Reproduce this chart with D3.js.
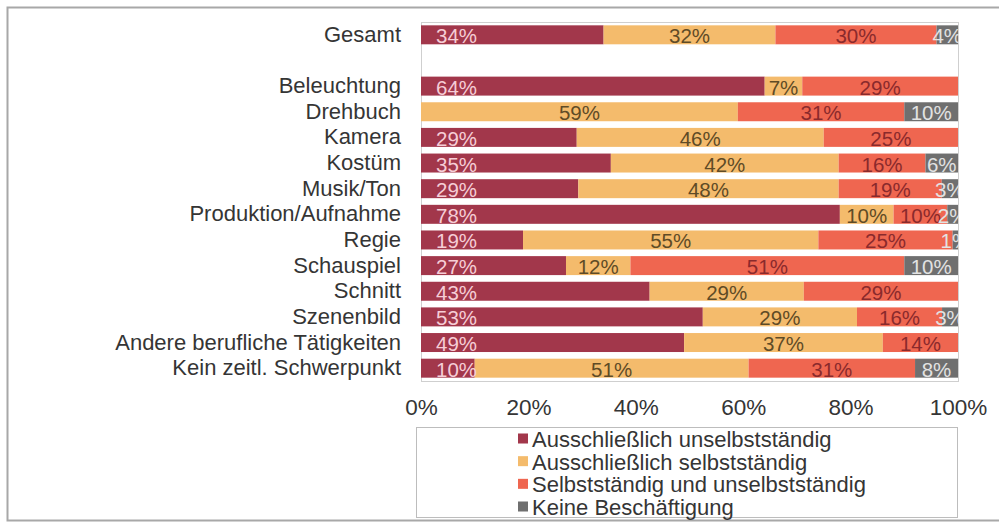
<!DOCTYPE html>
<html>
<head>
<meta charset="utf-8">
<script src="https://cdn.jsdelivr.net/npm/d3@7"></script>
<style>
  html, body { margin: 0; padding: 0; background: #fff; }
  svg { display: block; font-family: "Liberation Sans", Arial, Helvetica, sans-serif; }
</style>
</head>
<body>
<svg id="chart" width="999" height="523"></svg>
<script>
// Occupations (first row is the overall total, followed by a gap)
const categories = [
  "Gesamt", "Beleuchtung", "Drehbuch", "Kamera", "Kostüm", "Musik/Ton",
  "Produktion/Aufnahme", "Regie", "Schauspiel", "Schnitt", "Szenenbild",
  "Andere berufliche Tätigkeiten", "Kein zeitl. Schwerpunkt"
];

const seriesNames = [
  "Ausschließlich unselbstständig",
  "Ausschließlich selbstständig",
  "Selbstständig und unselbstständig",
  "Keine Beschäftigung"
];

// Shares in percent, one entry per category
const unselbststaendig = [34, 64, 0, 29, 35, 29, 78, 19, 27, 43, 53, 49, 10];
const selbststaendig   = [32, 7, 59, 46, 42, 48, 10, 55, 12, 29, 29, 37, 51];
const beides           = [30, 29, 31, 25, 16, 19, 10, 25, 51, 29, 16, 14, 31];
const keine            = [4, 0, 10, 0, 6, 3, 2, 1, 10, 0, 3, 0, 8];

const tickValues = [0, 0.2, 0.4, 0.6, 0.8, 1];
const tickLabels = ["0%", "20%", "40%", "60%", "80%", "100%"];

const colors = ["#a2374b", "#f4bb6c", "#ef6650", "#6f6f6f"];
const labelColors = ["#f6cdd6", "#5f4b26", "#8a2a2c", "#e2e2e2"];

const seriesValues = [unselbststaendig, selbststaendig, beides, keine];
const keys = ["s0", "s1", "s2", "s3"];

const rows = categories.map((c, i) => {
  const r = { name: c };
  keys.forEach((k, j) => { r[k] = seriesValues[j][i]; });
  return r;
});

const GAP = "\u0000gap";
const rowOrder = [categories[0], GAP, ...categories.slice(1)];

const plot = { left: 421, right: 958, top: 22, bottom: 381 };

const svg = d3.select("#chart");
const textColor = "#353535";

// Outer frame
svg.append("rect")
  .attr("x", 7.5).attr("y", 7.5)
  .attr("width", 1010).attr("height", 513)
  .attr("fill", "none").attr("stroke", "#a8a8a8").attr("stroke-width", 2);

const x = d3.scaleLinear().domain([0, 1]).range([plot.left, plot.right]);
const y = d3.scaleBand().domain(rowOrder)
  .range([plot.top, plot.bottom])
  .paddingInner(0.26).paddingOuter(0.13);

const stack = d3.stack().keys(keys).offset(d3.stackOffsetExpand);
const stacked = stack(rows);

svg.append("defs").append("clipPath").attr("id", "plotClip")
  .append("rect")
  .attr("x", plot.left).attr("y", plot.top)
  .attr("width", plot.right - plot.left + 1).attr("height", plot.bottom - plot.top);

// Plot area border
svg.append("rect")
  .attr("x", plot.left + 0.5).attr("y", plot.top + 0.5)
  .attr("width", plot.right - plot.left).attr("height", plot.bottom - plot.top)
  .attr("fill", "none").attr("stroke", "#cfcfcf").attr("stroke-width", 1);

const barsG = svg.append("g");
stacked.forEach((layer, si) => {
  barsG.append("g").attr("fill", colors[si])
    .selectAll("rect")
    .data(layer.filter(d => d.data[keys[si]] > 0))
    .join("rect")
    .attr("x", d => x(d[0]))
    .attr("y", d => y(d.data.name))
    .attr("width", d => x(d[1]) - x(d[0]))
    .attr("height", y.bandwidth());
});

// Value labels: first series sits at the bar's base, the rest are centred
const labelsG = svg.append("g").attr("clip-path", "url(#plotClip)")
  .attr("font-size", 20.5);
stacked.forEach((layer, si) => {
  labelsG.append("g")
    .attr("fill", labelColors[si])
    .selectAll("text")
    .data(layer.filter(d => d.data[keys[si]] > 0))
    .join("text")
    .attr("x", d => si === 0 ? x(d[0]) + 15 : (x(d[0]) + x(d[1])) / 2)
    .attr("y", d => y(d.data.name) + y.bandwidth() / 2 + 1)
    .attr("text-anchor", si === 0 ? "start" : "middle")
    .attr("dominant-baseline", "central")
    .text(d => d.data[keys[si]] + "%");
});

// Category axis
const yAxis = d3.axisLeft(y).tickSize(0).tickPadding(20)
  .tickFormat(d => d === GAP ? "" : d);
const yG = svg.append("g").attr("transform", `translate(${plot.left},0)`).call(yAxis);
yG.select(".domain").remove();
yG.selectAll("text").attr("font-size", 22).attr("fill", textColor)
  .attr("font-family", null);

// Percentage axis
const xAxis = d3.axisBottom(x).tickValues(tickValues).tickSize(0).tickPadding(18)
  .tickFormat((d, i) => tickLabels[i]);
const xG = svg.append("g").attr("transform", `translate(0,${plot.bottom})`).call(xAxis);
xG.select(".domain").remove();
xG.selectAll("text").attr("font-size", 22.5).attr("fill", textColor)
  .attr("font-family", null);

// Legend
const legend = svg.append("g");
legend.append("rect")
  .attr("x", 416.5).attr("y", 427.5).attr("width", 541).attr("height", 90)
  .attr("fill", "#fff").attr("stroke", "#bdbdbd").attr("stroke-width", 1);
const legendRow = d3.scalePoint().domain(seriesNames).range([438.5, 506.5]);
const items = legend.selectAll("g.item").data(seriesNames).join("g")
  .attr("class", "item")
  .attr("transform", d => `translate(518,${legendRow(d)})`);
items.append("rect")
  .attr("x", 0).attr("y", -5).attr("width", 10).attr("height", 10)
  .attr("fill", (d, i) => colors[i]);
items.append("text")
  .attr("x", 14).attr("y", 1)
  .attr("dominant-baseline", "central")
  .attr("font-size", 22).attr("fill", textColor)
  .text(d => d);
</script>
</body>
</html>
